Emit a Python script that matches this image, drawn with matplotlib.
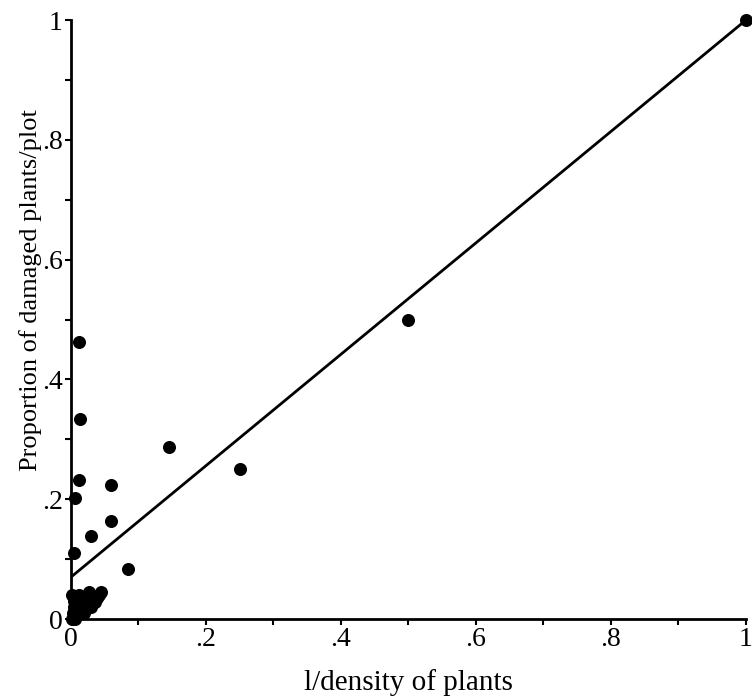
import matplotlib
matplotlib.use("Agg")
import matplotlib.pyplot as plt
from matplotlib.ticker import MultipleLocator, FuncFormatter

# points: 1/density of plants vs proportion damaged
inv_density = [1.0, 0.5, 0.25, 0.145, 0.085, 0.059, 0.059, 0.030,
               0.012, 0.014, 0.012, 0.006, 0.005,
               0.002, 0.003, 0.004, 0.005, 0.006, 0.008, 0.010, 0.010,
               0.012, 0.015, 0.017, 0.020, 0.022, 0.025, 0.027, 0.030,
               0.033, 0.038, 0.045, 0.002, 0.004, 0.006, 0.012, 0.018,
               0.028, 0.008, 0.014, 0.020, 0.035, 0.042]
prop_damaged = [1.0, 0.5, 0.25, 0.287, 0.083, 0.224, 0.164, 0.139,
                0.463, 0.334, 0.232, 0.202, 0.111,
                0.000, 0.010, 0.020, 0.030, 0.035, 0.005, 0.015, 0.030,
                0.040, 0.020, 0.035, 0.010, 0.025, 0.040, 0.045, 0.020,
                0.030, 0.035, 0.045, 0.040, 0.005, 0.000, 0.008, 0.028,
                0.032, 0.022, 0.012, 0.018, 0.028, 0.040]

# fitted regression line
fit_intercept = 0.07
fit_slope = 0.93

plt.rcParams['font.family'] = ['Liberation Serif', 'DejaVu Serif']

fig = plt.figure(figsize=(7.52, 7.0), dpi=100)
ax = fig.add_axes([0.0944, 0.1157, 0.8976, 0.8557])

ax.scatter(inv_density, prop_damaged, s=70, color='black', zorder=3, clip_on=False)
ax.plot([0, 1], [fit_intercept, fit_intercept + fit_slope], color='black', lw=2)

ax.set_xlim(0, 1)
ax.set_ylim(0, 1)
for side in ['top', 'right']:
    ax.spines[side].set_visible(False)
for side in ['left', 'bottom']:
    ax.spines[side].set_linewidth(2)

def fmt(v, pos):
    if abs(v) < 1e-9:
        return '0'
    if abs(v - 1) < 1e-9:
        return '1'
    return ('%.1f' % v).lstrip('0')

for axis in (ax.xaxis, ax.yaxis):
    axis.set_major_locator(MultipleLocator(0.2))
    axis.set_minor_locator(MultipleLocator(0.1))
    axis.set_major_formatter(FuncFormatter(fmt))
ax.tick_params(which='both', direction='out', length=4, width=1.5, labelsize=20, pad=2)

ax.set_xlabel('l/density of plants', fontsize=21, labelpad=12)
ax.set_ylabel('Proportion of damaged plants/plot', fontsize=19)
ax.yaxis.set_label_coords(-0.043, 0.55)

fig.savefig('out.png', dpi=100)
